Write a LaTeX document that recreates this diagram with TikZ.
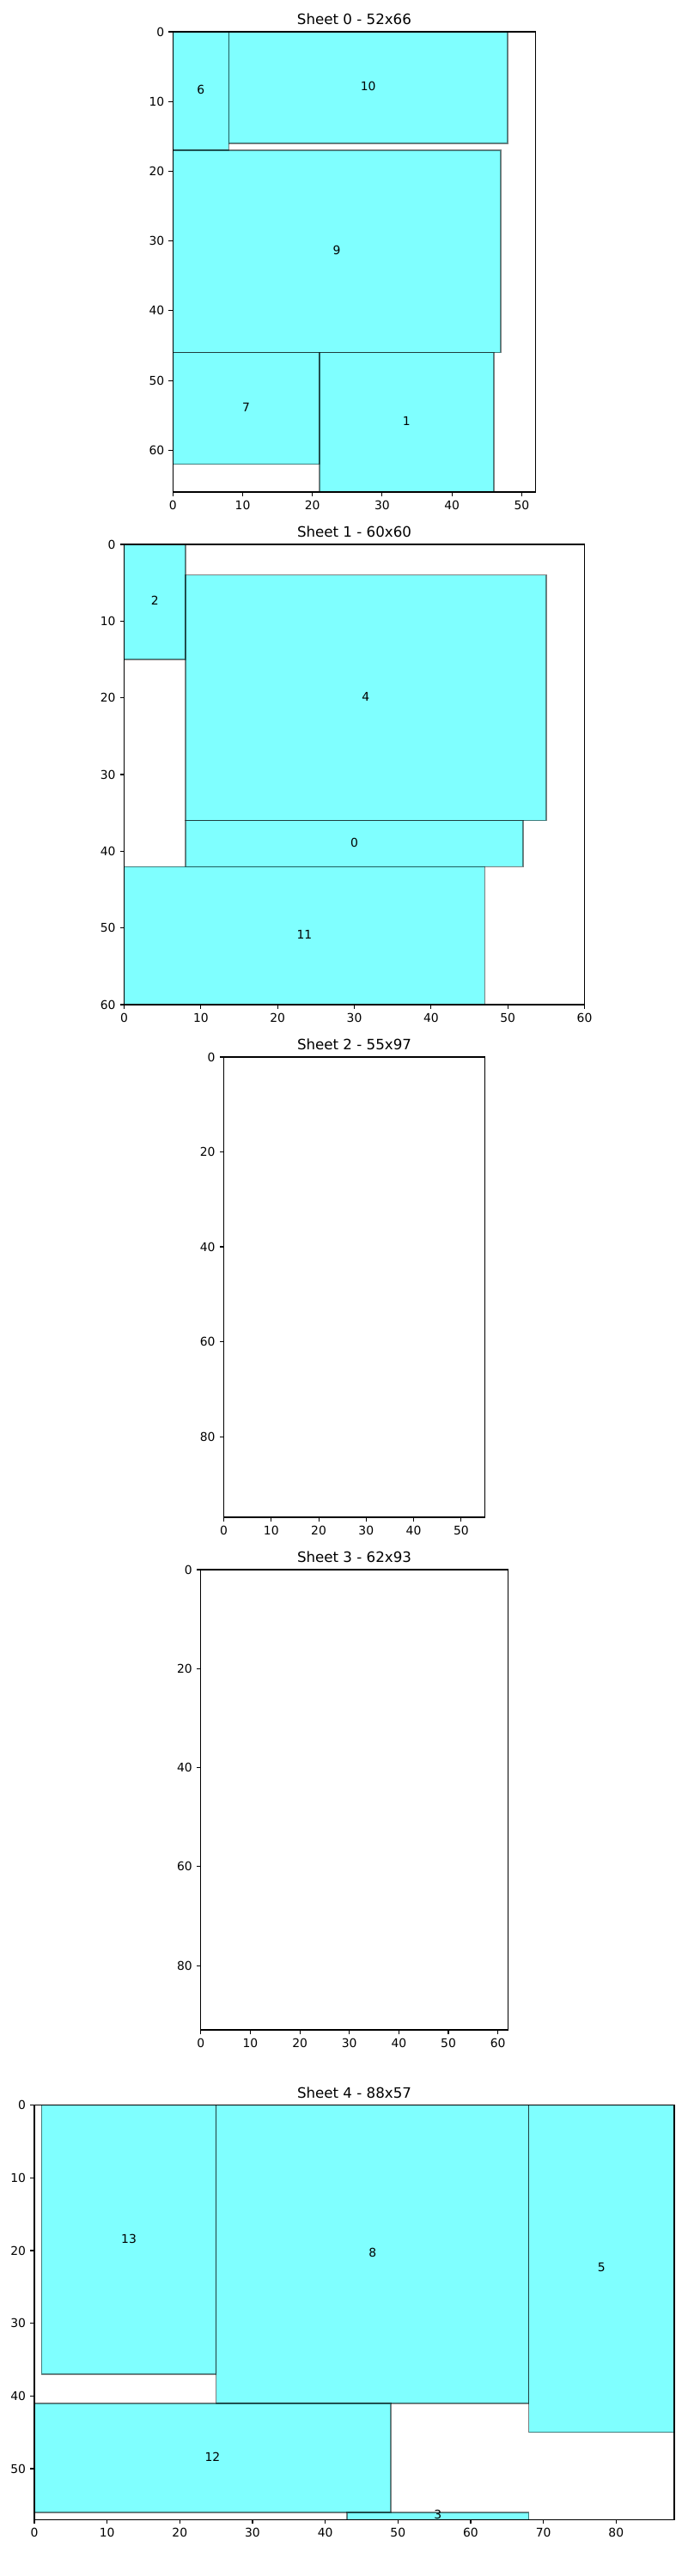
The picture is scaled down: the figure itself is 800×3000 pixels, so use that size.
\documentclass[tikz,border=0pt]{standalone}
\usepackage{fontspec}
\setmainfont{DejaVu Sans}
\definecolor{mplcyan}{RGB}{0,255,255}
\begin{document}
\begin{tikzpicture}[x=0.72pt,y=-0.72pt,
  spine/.style={draw=black,line width=0.8pt},
  tickmark/.style={draw=black,line width=0.8pt},
  ticklabel/.style={inner sep=0pt,font=\fontsize{10}{12}\selectfont},
  titlestyle/.style={inner sep=0pt,anchor=base,font=\fontsize{12}{14}\selectfont},
  piece/.style={draw=black,draw opacity=0.5,fill=mplcyan,fill opacity=0.5,line width=1pt},
  piecelabel/.style={inner sep=0pt,anchor=center,yshift=1pt,font=\fontsize{10}{12}\selectfont}]
\fill[white] (0,0) rectangle (800,3000);
\useasboundingbox (0,0) rectangle (800,3000);
\newcommand{\sheetaxes}[6]{%
  \draw[spine] (0,0) rectangle (#1,#2);
  \foreach \t in {#3} {
    \draw[tickmark] (\t,#2) -- ++(0pt,-3.5pt);
    \node[ticklabel,anchor=north] (#6x\t) at ([yshift=-7pt]\t,#2) {\t};
  }
  \foreach \t in {#4} {
    \draw[tickmark] (0,\t) -- ++(-3.5pt,0pt);
    \node[ticklabel,anchor=east] (#6y\t) at ([xshift=-7pt]0,\t) {\t};
  }
  \node[titlestyle] (#6title) at ([yshift=6pt]#1/2,0) {#5};
}
\newcommand{\piece}[6]{%
  \draw[piece] (#1,#2) rectangle (#3,#4);
  \node[piecelabel] (#6) at ({(#1+#3)/2},{(#2+#4)/2}) {#5};
}
% Sheet 0
\begin{scope}[shift={(201.3,37)},x=5.8473pt,y=-5.8473pt]
  \begin{scope}
    \clip (0,0) rectangle (52,66);
    \piece{0}{0}{8}{17}{6}{p6}
    \piece{8}{0}{48}{16}{10}{p10}
    \piece{0}{17}{47}{46}{9}{p9}
    \piece{0}{46}{21}{62}{7}{p7}
    \piece{21}{46}{46}{66}{1}{p1}
  \end{scope}
  \sheetaxes{52}{66}{0,10,20,30,40,50}{0,10,20,30,40,50,60}{Sheet 0 - 52x66}{sa}
\end{scope}
% Sheet 1
\begin{scope}[shift={(144.5,634)},x=6.432pt,y=-6.432pt]
  \begin{scope}
    \clip (0,0) rectangle (60,60);
    \piece{0}{0}{8}{15}{2}{p2}
    \piece{8}{4}{55}{36}{4}{p4}
    \piece{8}{36}{52}{42}{0}{p0}
    \piece{0}{42}{47}{60}{11}{p11}
  \end{scope}
  \sheetaxes{60}{60}{0,10,20,30,40,50,60}{0,10,20,30,40,50,60}{Sheet 1 - 60x60}{sb}
\end{scope}
% Sheet 2
\begin{scope}[shift={(260.54,1231)},x=3.9786pt,y=-3.9786pt]
  \sheetaxes{55}{97}{0,10,20,30,40,50}{0,20,40,60,80}{Sheet 2 - 55x97}{sc}
\end{scope}
% Sheet 3
\begin{scope}[shift={(233.83,1828)},x=4.1497pt,y=-4.1497pt]
  \sheetaxes{62}{93}{0,10,20,30,40,50,60}{0,20,40,60,80}{Sheet 3 - 62x93}{sd}
\end{scope}
% Sheet 4
\begin{scope}[shift={(40,2451.7)},x=6.0955pt,y=-6.0955pt]
  \begin{scope}
    \clip (0,0) rectangle (88,57);
    \piece{1}{0}{25}{37}{13}{p13}
    \piece{25}{0}{68}{41}{8}{p8}
    \piece{68}{0}{88}{45}{5}{p5}
    \piece{0}{41}{49}{56}{12}{p12}
    \piece{43}{56}{68}{57}{3}{p3}
  \end{scope}
  \sheetaxes{88}{57}{0,10,20,30,40,50,60,70,80}{0,10,20,30,40,50}{Sheet 4 - 88x57}{se}
\end{scope}
\end{tikzpicture}
\end{document}
